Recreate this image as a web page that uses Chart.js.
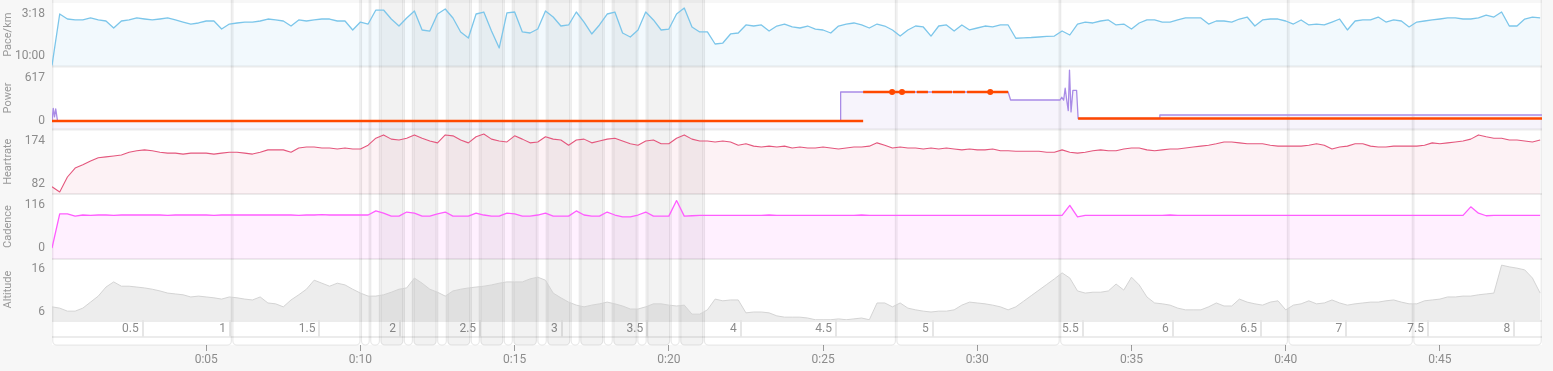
<!DOCTYPE html>
<html lang="en">
<head>
<meta charset="UTF-8">
<title>Activity</title>
<script src="https://cdn.jsdelivr.net/npm/chart.js"></script>
<style>
  html, body { margin: 0; padding: 0; background: #f7f7f7; }
  #wrap { width: 1553px; height: 371px; }
</style>
</head>
<body>
<div id="wrap"><canvas id="activityChart" width="1553" height="371"></canvas></div>
<script>
// sample times (minutes), one every 15 s
const minutes = [
  0, 0.25, 0.5, 0.75, 1, 1.25, 1.5, 1.75, 2, 2.25,
  2.5, 2.75, 3, 3.25, 3.5, 3.75, 4, 4.25, 4.5, 4.75,
  5, 5.25, 5.5, 5.75, 6, 6.25, 6.5, 6.75, 7, 7.25,
  7.5, 7.75, 8, 8.25, 8.5, 8.75, 9, 9.25, 9.5, 9.75,
  10, 10.25, 10.5, 10.75, 11, 11.25, 11.5, 11.75, 12, 12.25,
  12.5, 12.75, 13, 13.25, 13.5, 13.75, 14, 14.25, 14.5, 14.75,
  15, 15.25, 15.5, 15.75, 16, 16.25, 16.5, 16.75, 17, 17.25,
  17.5, 17.75, 18, 18.25, 18.5, 18.75, 19, 19.25, 19.5, 19.75,
  20, 20.25, 20.5, 20.75, 21, 21.25, 21.5, 21.75, 22, 22.25,
  22.5, 22.75, 23, 23.25, 23.5, 23.75, 24, 24.25, 24.5, 24.75,
  25, 25.25, 25.5, 25.75, 26, 26.25, 26.5, 26.75, 27, 27.25,
  27.5, 27.75, 28, 28.25, 28.5, 28.75, 29, 29.25, 29.5, 29.75,
  30, 30.25, 30.5, 30.75, 31, 31.25, 31.5, 31.75, 32, 32.25,
  32.5, 32.75, 33, 33.25, 33.5, 33.75, 34, 34.25, 34.5, 34.75,
  35, 35.25, 35.5, 35.75, 36, 36.25, 36.5, 36.75, 37, 37.25,
  37.5, 37.75, 38, 38.25, 38.5, 38.75, 39, 39.25, 39.5, 39.75,
  40, 40.25, 40.5, 40.75, 41, 41.25, 41.5, 41.75, 42, 42.25,
  42.5, 42.75, 43, 43.25, 43.5, 43.75, 44, 44.25, 44.5, 44.75,
  45, 45.25, 45.5, 45.75, 46, 46.25, 46.5, 46.75, 47, 47.25,
  47.5, 47.75, 48, 48.25
];

// pace in seconds per km
const pace = [
  690, 198, 246, 255, 255, 236, 255, 265, 332, 265,
  255, 236, 246, 255, 246, 236, 255, 275, 294, 284,
  265, 265, 342, 294, 284, 275, 275, 265, 246, 255,
  265, 313, 255, 265, 255, 246, 246, 265, 265, 351,
  275, 294, 160, 160, 246, 313, 236, 169, 351, 361,
  198, 150, 236, 370, 428, 198, 179, 361, 523, 188,
  179, 370, 380, 342, 169, 227, 313, 303, 179, 275,
  389, 303, 198, 179, 380, 418, 351, 179, 255, 351,
  342, 198, 141, 322, 370, 370, 485, 476, 389, 380,
  303, 313, 303, 361, 313, 294, 322, 332, 313, 342,
  351, 380, 313, 294, 284, 303, 332, 294, 313, 351,
  409, 351, 313, 322, 409, 313, 303, 361, 303, 351,
  332, 313, 322, 303, 303, 430, 426, 423, 418, 413,
  409, 361, 399, 294, 275, 284, 265, 255, 303, 294,
  342, 284, 255, 255, 275, 275, 255, 236, 236, 236,
  294, 265, 265, 275, 246, 227, 313, 255, 246, 246,
  265, 294, 255, 303, 294, 303, 275, 246, 351, 265,
  255, 255, 227, 275, 255, 265, 322, 275, 265, 255,
  246, 236, 236, 246, 246, 236, 208, 227, 179, 313,
  313, 246, 227, 236
];

const heartRate = [
  76, 65, 97, 116, 123, 131, 138, 140, 142, 144,
  150, 153, 155, 153, 150, 148, 148, 146, 148, 148,
  148, 146, 148, 150, 150, 148, 146, 150, 155, 155,
  155, 150, 159, 161, 161, 159, 159, 157, 159, 157,
  157, 165, 180, 187, 178, 176, 180, 187, 180, 174,
  170, 187, 185, 176, 170, 183, 189, 178, 174, 172,
  185, 178, 170, 172, 183, 178, 176, 165, 176, 178,
  170, 174, 178, 180, 174, 168, 165, 174, 176, 168,
  168, 180, 187, 178, 174, 174, 172, 174, 172, 165,
  168, 163, 161, 163, 161, 163, 159, 161, 159, 159,
  161, 159, 157, 159, 161, 161, 163, 170, 165, 159,
  161, 159, 159, 157, 159, 157, 159, 157, 155, 157,
  155, 155, 157, 153, 153, 152, 152, 152, 152, 150,
  150, 155, 150, 148, 150, 153, 155, 153, 153, 157,
  159, 159, 155, 153, 155, 157, 157, 159, 161, 163,
  165, 168, 172, 172, 170, 168, 168, 168, 165, 163,
  163, 163, 163, 165, 168, 165, 157, 161, 163, 168,
  168, 163, 161, 161, 163, 163, 163, 163, 165, 170,
  168, 170, 172, 174, 178, 187, 183, 180, 180, 176,
  176, 174, 172, 176
];

const cadence = [
  0, 92, 92, 86, 89, 88, 89, 89, 88, 89,
  89, 89, 89, 89, 89, 88, 89, 89, 89, 89,
  89, 88, 89, 89, 89, 89, 89, 89, 89, 89,
  89, 89, 88, 89, 89, 90, 89, 89, 89, 89,
  89, 89, 100, 94, 86, 86, 97, 94, 86, 86,
  92, 97, 86, 86, 86, 94, 89, 86, 86, 94,
  92, 86, 86, 89, 94, 86, 86, 86, 100, 89,
  86, 86, 97, 89, 84, 84, 89, 97, 86, 86,
  86, 128, 86, 87, 88, 88, 88, 88, 88, 88,
  88, 88, 88, 89, 88, 88, 88, 88, 88, 88,
  88, 88, 88, 88, 88, 89, 88, 88, 88, 88,
  88, 88, 88, 88, 88, 88, 88, 88, 88, 88,
  88, 88, 88, 88, 88, 88, 88, 88, 88, 88,
  88, 88, 115, 84, 88, 88, 88, 88, 88, 88,
  88, 88, 88, 88, 88, 89, 88, 88, 88, 88,
  88, 88, 88, 88, 88, 88, 88, 88, 88, 88,
  88, 88, 88, 88, 88, 88, 88, 88, 88, 88,
  88, 88, 88, 88, 88, 88, 88, 88, 88, 88,
  88, 88, 88, 88, 111, 94, 87, 88, 88, 88,
  88, 88, 88, 88
];

const altitude = [
  7.2, 6.9, 6.2, 6.2, 6.9, 8.3, 9.7, 11.8, 13, 12,
  12, 11.8, 11.6, 11.3, 10.9, 10.4, 10.2, 10, 9.5, 9.7,
  9.5, 9.3, 9, 9.5, 9.3, 9, 8.8, 9.5, 8.1, 7.9,
  7.2, 8.8, 10, 11.3, 13.4, 12.7, 12, 12.7, 12.3, 11.3,
  10.4, 9.7, 9.7, 10, 10.6, 11.3, 11.6, 13.9, 12.7, 11.3,
  10.6, 9.7, 10.9, 11.3, 11.6, 11.8, 12, 12.3, 12.7, 13,
  13, 13, 13.7, 14.1, 13.4, 10.4, 9.3, 8.3, 7.6, 7.2,
  7.6, 7.9, 8.3, 7.9, 7.4, 6.7, 6.7, 7.2, 7.9, 7.9,
  7.6, 7.4, 7.6, 5.5, 5.5, 6.5, 9, 8.6, 8.8, 8.8,
  5.8, 6, 6, 5.8, 5.1, 4.8, 4.8, 4.8, 4.6, 4.2,
  4.2, 4.2, 4.4, 4.2, 4.4, 4.6, 4.2, 8.1, 8.1, 7.2,
  8.1, 6.9, 6.5, 6.2, 6, 6.2, 6.2, 6.5, 7.6, 8.3,
  8.1, 7.9, 7.6, 7.2, 6.5, 7.2, 8.5, 9.8, 11.1, 12.4,
  13.7, 15.1, 13.9, 10.9, 10.4, 10.6, 10.6, 10.9, 12.5, 11.1,
  14.1, 12.3, 9.5, 8.1, 7.9, 7.6, 6.9, 6.5, 6.5, 6.5,
  7.2, 8.1, 7.4, 7.4, 9, 8.3, 7.9, 7.6, 8.3, 8.6,
  6.5, 7.6, 7.9, 8.6, 7.9, 8.1, 8.8, 8.1, 7.6, 7.9,
  8.1, 8.3, 8.3, 8.6, 8.8, 8.3, 7.9, 7.9, 8.6, 8.8,
  9, 9.5, 9.5, 9.7, 9.7, 10, 10.2, 10.4, 16.9, 16.5,
  16.2, 15.8, 13.9, 10.4
];

// power (W), its own time stamps
const powerT = [0, 0.04, 0.08, 0.12, 0.18, 25.55, 25.57, 31.0, 31.08, 32.68, 32.74, 32.8, 32.85, 32.9, 32.95, 32.99, 33.04, 33.1, 33.22, 33.27, 35.9, 35.92, 48.31];
const powerW = [0, 180, 60, 175, 0, 0, 416, 416, 301, 301, 340, 300, 470, 300, 150, 730, 130, 440, 440, 36, 36, 86, 86];

// orange target power line, null = gap
const targetT = [0, 26.3, 26.3, 26.3, 27.24, 27.25, 27.27, 27.56, 27.98, 28.01, 28.04, 28.4, 28.46, 28.53, 29.18, 29.19, 29.21, 29.6, 29.63, 29.67, 30.42, 30.45, 30.48, 31.0, 32.0, 33.27, 48.31];
const targetW = [0, 0, null, 416, 416, null, 416, 416, 416, null, 416, 416, null, 416, 416, null, 416, 416, null, 416, 416, null, 416, 416, null, 36, 36];
const targetDots = [27.24, 27.56, 30.42];

// laps (minutes) and which ones are the shaded efforts
const lapEdges = [0, 5.84, 10.01, 10.31, 10.64, 11.40, 11.71, 12.48, 12.81, 13.57, 13.88, 14.64, 14.95, 15.73,
  16.05, 16.81, 17.12, 17.88, 18.19, 18.97, 19.29, 20.05, 20.36, 21.13, 27.37, 32.68, 40.08, 44.13, 48.31];
const lapShaded = [0, 0, 0, 0, 1, 0, 1, 0, 1, 0, 1, 0, 1, 0, 1, 0, 1, 0, 1, 0, 1, 0, 1, 0, 0, 0, 0, 0];

// distance markers (time when reached) and labels
const distMarks = [2.94, 5.77, 8.67, 11.28, 13.88, 16.53, 19.30, 22.33, 25.42, 28.56, 33.42, 36.34, 39.20, 41.96, 44.61, 47.41];
const distLabels = ['0.5', '1', '1.5', '2', '2.5', '3', '3.5', '4', '4.5', '5', '5.5', '6', '6.5', '7', '7.5', '8'];

const timeTicks = [5, 10, 15, 20, 25, 30, 35, 40, 45];
const paceTicks = [198, 600];
const powerTicks = [0, 617];
const hrTicks = [82, 174];
const cadenceTicks = [0, 116];
const altitudeTicks = [6, 16];

const endMinute = 48.31;

Chart.defaults.font.family = 'Roboto, "Open Sans", sans-serif';

function pts(ts, vs) {
    return ts.map((t, i) => ({ x: t, y: vs[i] }));
}

function fmtPace(v) {
    return Math.floor(v / 60) + ':' + String(v % 60).padStart(2, '0');
}

// no extra room for the tick labels that stick out
function noPad(s) {
    s.paddingTop = 0;
    s.paddingBottom = 0;
    s.paddingLeft = 0;
    s.paddingRight = 0;
}

function panelAxis(title, min, max, tickValues, weight, stackWeight, fmt) {
    return {
        type: 'linear',
        position: 'left',
        stack: 'panels',
        stackWeight: stackWeight,
        weight: weight,
        reverse: title == 'Pace/km',
        min: min,
        max: max,
        afterBuildTicks: s => { s.ticks = tickValues.map(v => ({ value: v })); },
        afterFit: s => { s.width = 52; noPad(s); },
        grid: { display: false, drawTicks: false },
        border: { display: false },
        ticks: { color: '#8c8c8c', font: { size: 12 }, padding: 7, autoSkip: false, callback: fmt || (v => v) },
        title: { display: true, text: title, color: '#999', font: { size: 11 }, padding: { top: 2, bottom: 0 } }
    };
}

// page background, white panels, separators, distance row
const panelPlugin = {
    id: 'panels',
    beforeDraw(chart) {
        const ctx = chart.ctx;
        const a = chart.chartArea;
        const dist = chart.scales.dist;
        ctx.save();
        ctx.fillStyle = '#f7f7f7';
        ctx.fillRect(0, 0, chart.width, chart.height);
        ctx.fillStyle = '#ffffff';
        ctx.fillRect(a.left, a.top, a.right - a.left, dist.bottom - a.top);
        ctx.fillStyle = '#ececec';
        ['power', 'hr', 'cadence', 'altitude'].forEach(id => {
            ctx.fillRect(a.left, chart.scales[id].top - 1, a.right - a.left, 2);
        });
        ctx.fillRect(a.left, a.bottom, a.right - a.left, 2);
        ctx.fillRect(a.left, a.bottom + 16, a.right - a.left, 2);
        ctx.restore();
    },
    beforeDatasetsDraw(chart) {
        const ctx = chart.ctx;
        const x = chart.scales.x;
        const bottom = chart.scales.dist.bottom;
        ctx.save();
        for (let i = 0; i < lapShaded.length; i++) {
            const x0 = x.getPixelForValue(lapEdges[i]) + 0.75;
            const x1 = x.getPixelForValue(lapEdges[i + 1]) - 0.75;
            ctx.beginPath();
            ctx.roundRect(x0, -6, x1 - x0, bottom + 6, 4);
            if (lapShaded[i]) {
                ctx.fillStyle = 'rgba(0,0,0,0.05)';
                ctx.fill();
            }
            ctx.strokeStyle = 'rgba(0,0,0,0.09)';
            ctx.lineWidth = 1.2;
            ctx.stroke();
        }
        ctx.restore();
    }
};

const line = { pointRadius: 0, fill: 'start', tension: 0, borderJoinStyle: 'round', xAxisID: 'x' };

new Chart(document.getElementById('activityChart'), {
    type: 'line',
    data: {
        datasets: [
            Object.assign({}, line, { label: 'Target', yAxisID: 'power', data: pts(targetT, targetW), order: 0, fill: false,
                borderColor: '#ff4800', borderWidth: 2.5, spanGaps: false,
                pointRadius: c => (c.raw && targetDots.includes(c.raw.x)) ? 3 : 0,
                pointBackgroundColor: '#ff4800', pointBorderWidth: 0 }),
            Object.assign({}, line, { label: 'Pace', yAxisID: 'pace', data: pts(minutes, pace), order: 1,
                borderColor: '#7cc6ea', backgroundColor: 'rgba(124,198,234,0.1)', borderWidth: 1.3 }),
            Object.assign({}, line, { label: 'Power', yAxisID: 'power', data: pts(powerT, powerW), order: 2,
                borderColor: '#a98be6', backgroundColor: 'rgba(150,120,220,0.08)', borderWidth: 1.3 }),
            Object.assign({}, line, { label: 'Heartrate', yAxisID: 'hr', data: pts(minutes, heartRate), order: 3,
                borderColor: '#e4577d', backgroundColor: 'rgba(228,87,125,0.08)', borderWidth: 1.1 }),
            Object.assign({}, line, { label: 'Cadence', yAxisID: 'cadence', data: pts(minutes, cadence), order: 4,
                borderColor: '#ff5cff', backgroundColor: 'rgba(255,92,255,0.09)', borderWidth: 1.3 }),
            Object.assign({}, line, { label: 'Altitude', yAxisID: 'altitude', data: pts(minutes, altitude), order: 5,
                borderColor: '#d4d4d4', backgroundColor: 'rgba(0,0,0,0.07)', borderWidth: 1 })
        ]
    },
    options: {
        responsive: false,
        animation: false,
        events: [],
        layout: { padding: { top: 3, right: 11, left: 0, bottom: 0 } },
        plugins: { legend: { display: false }, tooltip: { enabled: false } },
        scales: {
            x: {
                type: 'linear', position: 'bottom', weight: 2, min: 0, max: endMinute,
                afterBuildTicks: s => { s.ticks = timeTicks.map(v => ({ value: v })); },
                afterFit: s => { s.height = 26; noPad(s); },
                grid: { drawOnChartArea: false, drawTicks: true, tickLength: 6, color: '#9a9a9a', lineWidth: 1 },
                border: { display: false },
                ticks: { color: '#8c8c8c', font: { size: 12 }, padding: 2, maxRotation: 0, minRotation: 0, autoSkip: false,
                    callback: v => '0:' + String(v).padStart(2, '0') }
            },
            dist: {
                type: 'linear', position: 'bottom', weight: 1, min: 0, max: endMinute,
                afterBuildTicks: s => { s.ticks = distMarks.map(v => ({ value: v })); },
                afterFit: s => { s.height = 25; noPad(s); },
                grid: { drawOnChartArea: false, drawTicks: true, tickLength: 17, color: '#e6e6e6', lineWidth: 2 },
                border: { display: false },
                ticks: { color: '#8c8c8c', font: { size: 12 }, padding: -15, labelOffset: -4, align: 'end',
                    maxRotation: 0, minRotation: 0, autoSkip: false, callback: (v, i) => distLabels[i] }
            },
            pace: panelAxis('Pace/km', 92.7, 700.5, paceTicks, 5, 63.5, fmtPace),
            power: panelAxis('Power', -122, 782, powerTicks, 4, 63),
            hr: panelAxis('Heartrate', 60.6, 198.6, hrTicks, 3, 64.5),
            cadence: panelAxis('Cadence', -29.7, 145.7, cadenceTicks, 2, 65),
            altitude: panelAxis('Altitude', 4.14, 18.33, altitudeTicks, 1, 61)
        }
    },
    plugins: [panelPlugin]
});
</script>
</body>
</html>
